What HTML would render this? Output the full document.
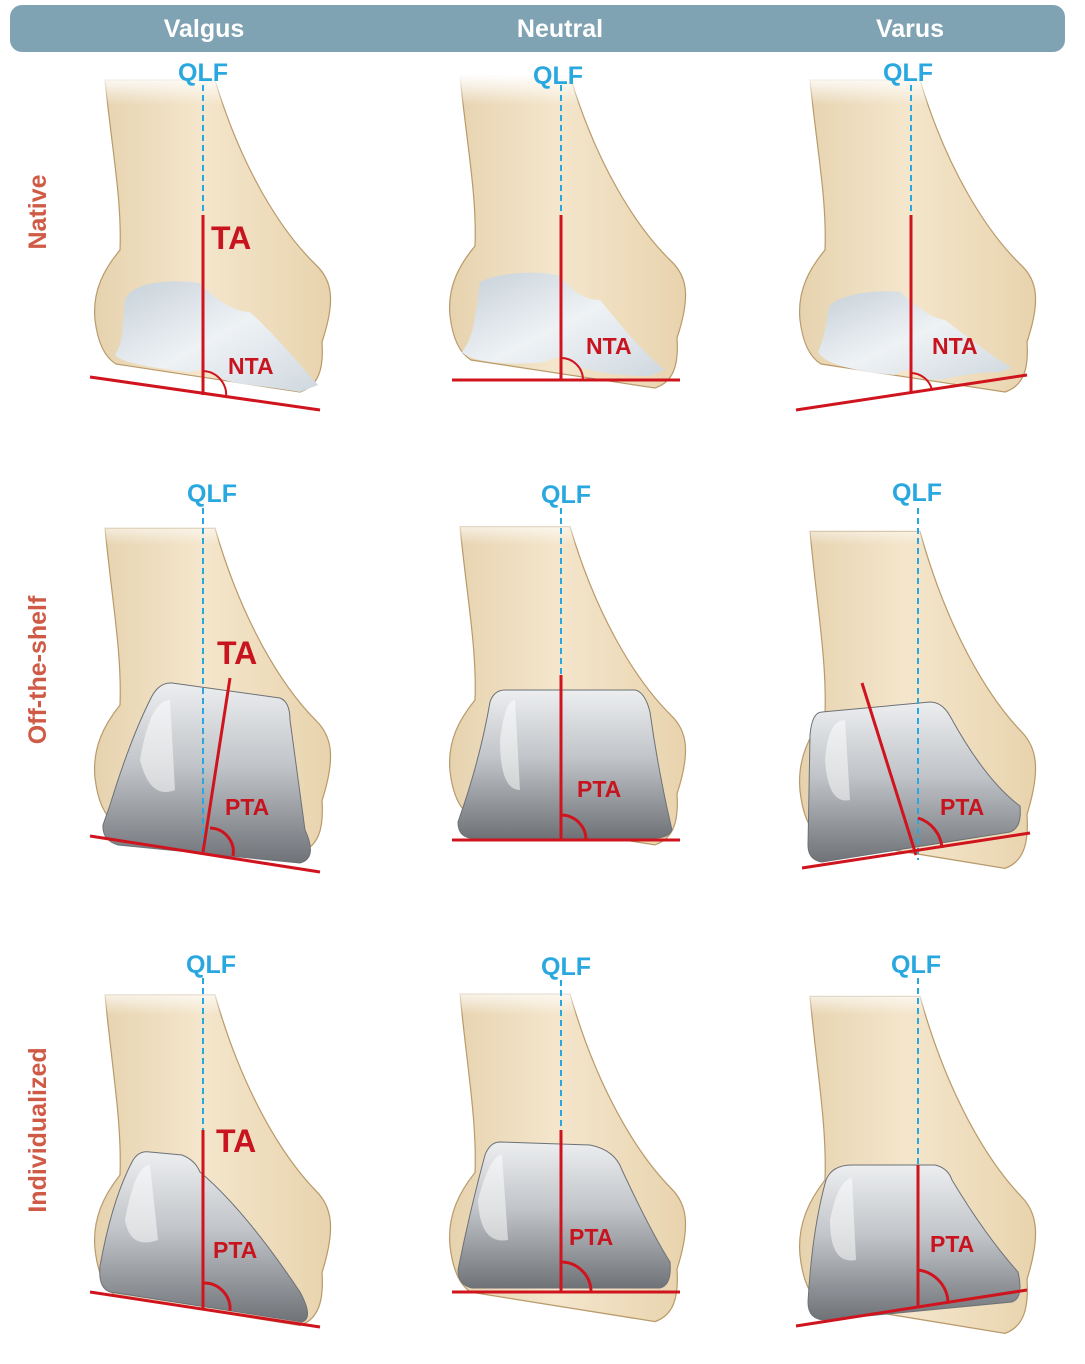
<!DOCTYPE html>
<html><head><meta charset="utf-8">
<style>
html,body{margin:0;padding:0;background:#fff;}
svg{display:block;}
text{font-family:"Liberation Sans",Arial,sans-serif;font-weight:bold;}
</style></head>
<body>
<svg width="1085" height="1364" viewBox="0 0 1085 1364" xmlns="http://www.w3.org/2000/svg">
<defs>
<linearGradient id="bone" x1="0" y1="0" x2="1" y2="0">
<stop offset="0" stop-color="#e6d2ae"/><stop offset="0.45" stop-color="#f4e6cc"/><stop offset="1" stop-color="#e8d3ad"/>
</linearGradient>
<linearGradient id="fade" x1="0" y1="0" x2="0" y2="1">
<stop offset="0" stop-color="#fff" stop-opacity="1"/><stop offset="1" stop-color="#fff" stop-opacity="0"/>
</linearGradient>
<linearGradient id="cart" x1="0" y1="0" x2="1" y2="1">
<stop offset="0" stop-color="#c6d0d8"/><stop offset="0.5" stop-color="#eef2f5"/><stop offset="1" stop-color="#cfd8df"/>
</linearGradient>
<linearGradient id="imp" x1="0" y1="0" x2="0" y2="1">
<stop offset="0" stop-color="#eceef0"/><stop offset="0.45" stop-color="#c2c5c9"/><stop offset="0.8" stop-color="#8d9196"/><stop offset="1" stop-color="#6f7378"/>
</linearGradient>
<path id="b" d="M105,80 C112,150 122,200 120,250 C105,268 92,290 95,320 C98,345 106,358 116,364 L300,392 C318,386 324,370 322,342 C336,300 332,280 316,265 C282,232 242,170 215,80 Z"/>
<path id="b2" d="M105,80 C112,150 122,200 120,250 C105,268 92,290 95,320 C98,345 106,358 116,364 L300,392 C318,386 324,370 322,342 C336,300 332,280 316,265 C282,232 242,170 215,80 Z"/>
</defs>

<!-- header -->
<rect x="10" y="5" width="1055" height="47" rx="12" fill="#7fa3b3"/>
<text x="204" y="37" font-size="25" fill="#fff" text-anchor="middle">Valgus</text>
<text x="560" y="37" font-size="25" fill="#fff" text-anchor="middle">Neutral</text>
<text x="910" y="37" font-size="25" fill="#fff" text-anchor="middle">Varus</text>

<!-- row labels -->
<g fill="#cf5a45" font-size="25">
<text transform="translate(46,212) rotate(-90)" text-anchor="middle">Native</text>
<text transform="translate(46,670) rotate(-90)" text-anchor="middle">Off-the-shelf</text>
<text transform="translate(46,1130) rotate(-90)" text-anchor="middle">Individualized</text>
</g>

<!-- bones -->
<g fill="url(#bone)" stroke="#b99a6a" stroke-width="1.2">
<use href="#b"/>
<use href="#b" transform="translate(355,-4)"/>
<use href="#b" transform="translate(705,0)"/>
<use href="#b" transform="translate(0,445) scale(1,1.04)"/>
<use href="#b" transform="translate(355,445) scale(1,1.02)"/>
<use href="#b" transform="translate(705,445) scale(1,1.08)"/>
<use href="#b" transform="translate(0,910) scale(1,1.06)"/>
<use href="#b" transform="translate(355,910) scale(1,1.05)"/>
<use href="#b" transform="translate(705,910) scale(1,1.08)"/>
</g>
<!-- top fades -->
<rect x="90" y="75" width="900" height="30" fill="url(#fade)"/>
<rect x="90" y="515" width="900" height="30" fill="url(#fade)"/>
<rect x="90" y="985" width="900" height="30" fill="url(#fade)"/>

<!-- native cartilage -->
<g fill="url(#cart)">
<path d="M125,300 C130,285 160,278 200,283 C215,300 235,312 250,312 C275,335 300,365 318,385 L300,392 C260,385 240,385 225,380 C210,370 200,368 190,372 C150,368 120,362 115,355 C125,340 122,320 125,300 Z"/>
<path d="M480,282 C500,272 540,270 560,276 C575,296 590,300 600,300 C615,318 640,350 665,370 L650,376 C610,376 590,370 576,366 C562,355 555,356 545,362 C510,366 470,362 462,352 C476,335 476,305 480,282 Z"/>
<path d="M830,305 C845,292 880,290 900,292 C915,305 930,318 945,320 C965,335 990,355 1012,368 L1000,372 C960,372 940,384 925,378 C912,368 905,368 895,375 C860,372 825,365 818,352 C826,335 826,318 830,305 Z"/>
</g>

<!-- implants -->
<g fill="url(#imp)" stroke="#6d7176" stroke-width="1">
<path d="M172,683 L280,698 Q290,702 290,720 L305,830 Q318,858 300,863 L118,845 Q102,840 103,825 L110,805 Q130,740 150,700 Q158,682 172,683 Z"/>
<path d="M505,690 L635,690 Q645,692 650,712 Q658,770 672,830 Q668,838 655,838 L470,838 Q458,836 458,822 Q480,760 490,702 Q494,690 505,690 Z"/>
<path d="M822,712 L930,702 Q942,702 950,716 Q985,780 1020,806 Q1022,828 1010,832 L822,862 Q808,860 808,845 L810,735 Q812,712 822,712 Z"/>
<path d="M150,1152 L182,1155 Q195,1160 200,1172 Q245,1210 300,1292 Q314,1318 302,1322 L110,1292 Q98,1288 100,1266 Q112,1200 132,1162 Q138,1150 150,1152 Z"/>
<path d="M500,1142 L590,1145 Q615,1150 622,1170 Q650,1230 670,1262 Q672,1285 660,1288 L472,1288 Q458,1285 458,1270 Q470,1210 485,1155 Q490,1142 500,1142 Z"/>
<path d="M852,1165 L935,1165 Q948,1168 952,1180 Q985,1235 1018,1272 Q1024,1298 1012,1302 L826,1320 Q808,1320 808,1302 Q812,1230 826,1180 Q832,1165 852,1165 Z"/>
</g>
<!-- implant highlights -->
<g fill="#ffffff" opacity="0.5">
<path d="M140,760 Q150,700 170,700 L175,790 Q150,800 140,760 Z"/>
<path d="M500,740 Q505,700 515,700 L520,790 Q500,790 500,740 Z"/>
<path d="M825,760 Q828,720 845,720 L850,800 Q828,805 825,760 Z"/>
<path d="M125,1220 Q135,1165 150,1165 L158,1240 Q130,1250 125,1220 Z"/>
<path d="M478,1200 Q490,1155 502,1155 L508,1240 Q480,1245 478,1200 Z"/>
<path d="M830,1220 Q838,1180 852,1178 L856,1260 Q830,1265 830,1220 Z"/>
</g>

<!-- QLF dashed lines -->
<g stroke="#29a8e0" stroke-width="2" stroke-dasharray="6,4">
<line x1="203" y1="85" x2="203" y2="215"/>
<line x1="561" y1="85" x2="561" y2="215"/>
<line x1="911" y1="85" x2="911" y2="215"/>
<line x1="203" y1="508" x2="203" y2="850"/>
<line x1="561" y1="508" x2="561" y2="675"/>
<line x1="918" y1="508" x2="918" y2="860"/>
<line x1="203" y1="978" x2="203" y2="1130"/>
<line x1="561" y1="980" x2="561" y2="1130"/>
<line x1="918" y1="978" x2="918" y2="1165"/>
</g>

<!-- red lines -->
<g stroke="#d0141e" stroke-width="3" fill="none">
<line x1="203" y1="215" x2="203" y2="395"/>
<line x1="561" y1="215" x2="561" y2="380"/>
<line x1="911" y1="215" x2="911" y2="393"/>
<line x1="90" y1="377" x2="320" y2="410"/>
<line x1="452" y1="380" x2="680" y2="380"/>
<line x1="796" y1="410" x2="1027" y2="375"/>

<line x1="230" y1="678" x2="203" y2="852"/>
<line x1="561" y1="675" x2="561" y2="840"/>
<line x1="862" y1="683" x2="916" y2="855"/>
<line x1="90" y1="836" x2="320" y2="872"/>
<line x1="452" y1="840" x2="680" y2="840"/>
<line x1="802" y1="868" x2="1030" y2="833"/>

<line x1="203" y1="1130" x2="203" y2="1308"/>
<line x1="561" y1="1130" x2="561" y2="1292"/>
<line x1="918" y1="1165" x2="918" y2="1308"/>
<line x1="90" y1="1292" x2="320" y2="1327"/>
<line x1="452" y1="1292" x2="680" y2="1292"/>
<line x1="796" y1="1326" x2="1027" y2="1290"/>

<!-- arcs -->
<g stroke-width="2">
<path d="M203,371 A24,24 0 0 1 226,398"/>
<path d="M561,358 A22,22 0 0 1 583,380"/>
<path d="M911,373 A22,22 0 0 1 932,390"/>
</g>
<path d="M210,828 A24,24 0 0 1 233,856"/>
<path d="M561,815 A25,25 0 0 1 586,840"/>
<path d="M918,818 A34,34 0 0 1 942,848"/>
<path d="M203,1283 A26,26 0 0 1 230,1311"/>
<path d="M561,1262 A30,30 0 0 1 591,1292"/>
<path d="M918,1270 A34,34 0 0 1 948,1302"/>
</g>

<!-- QLF labels -->
<g fill="#29a8e0" font-size="25" text-anchor="middle">
<text x="203" y="81">QLF</text>
<text x="558" y="84">QLF</text>
<text x="908" y="81">QLF</text>
<text x="212" y="502">QLF</text>
<text x="566" y="503">QLF</text>
<text x="917" y="501">QLF</text>
<text x="211" y="973">QLF</text>
<text x="566" y="975">QLF</text>
<text x="916" y="973">QLF</text>
</g>

<!-- red labels -->
<g fill="#c8141e">
<text x="211" y="249" font-size="32">TA</text>
<text x="217" y="664" font-size="32">TA</text>
<text x="216" y="1152" font-size="32">TA</text>
<g font-size="23">
<text x="228" y="374">NTA</text>
<text x="586" y="354">NTA</text>
<text x="932" y="354">NTA</text>
<text x="225" y="815">PTA</text>
<text x="577" y="797">PTA</text>
<text x="940" y="815">PTA</text>
<text x="213" y="1258">PTA</text>
<text x="569" y="1245">PTA</text>
<text x="930" y="1252">PTA</text>
</g>
</g>
</svg>
</body></html>
